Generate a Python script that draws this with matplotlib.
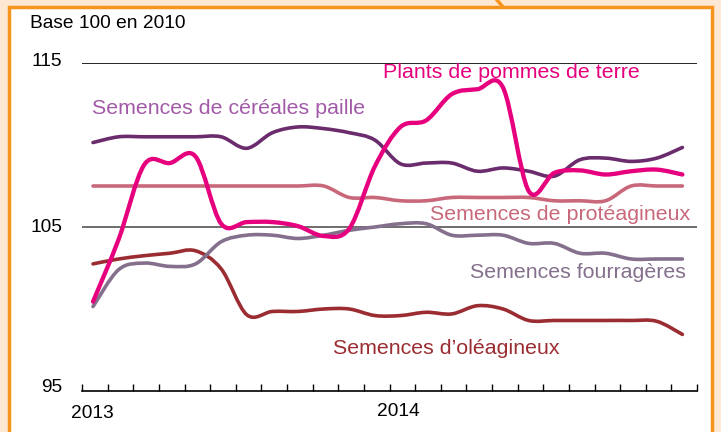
import numpy as np
import matplotlib.pyplot as plt
from matplotlib.path import Path
from matplotlib.patches import PathPatch, Rectangle
from matplotlib.lines import Line2D

plt.rcParams['font.family'] = ['Liberation Sans', 'DejaVu Sans']

# monthly index values, Jan 2013 -> Dec 2014 (base 100 in 2010)
months = np.arange(24)
cereales = [110.15, 110.5, 110.5, 110.5, 110.5, 110.5, 109.8, 110.75, 111.1, 111.0, 110.75, 110.3,
            108.85, 108.9, 108.9, 108.4, 108.6, 108.4, 108.1, 109.1, 109.2, 109.0, 109.2, 109.85]
pommes = [100.45, 104.25, 108.8, 108.9, 109.3, 105.2, 105.3, 105.3, 105.05, 104.45, 104.9, 108.7,
          111.1, 111.5, 113.1, 113.4, 113.5, 107.2, 108.3, 108.45, 108.2, 108.4, 108.5, 108.2]
proteagineux = [107.5] * 10 + [106.8, 106.8, 106.6, 106.6, 106.8, 106.8, 106.8, 106.8,
                               106.6, 106.6, 106.6, 107.5, 107.5, 107.5]
fourrageres = [100.15, 102.4, 102.8, 102.6, 102.75, 104.1, 104.5, 104.5, 104.3, 104.5, 104.8, 105.0,
               105.2, 105.2, 104.5, 104.5, 104.5, 104.0, 104.0, 103.4, 103.4, 103.05, 103.05, 103.05]
oleagineux = [102.75, 103.05, 103.25, 103.4, 103.55, 102.45, 99.65, 99.85, 99.85, 100.0, 100.0, 99.6,
              99.6, 99.8, 99.7, 100.2, 100.0, 99.3, 99.3, 99.3, 99.3, 99.3, 99.25, 98.45]

series = [
    (proteagineux, '#c8687a', 2.6, 'Semences de protéagineux', '#c8687a', (690, 214)),
    (oleagineux, '#9b2d32', 2.6, 'Semences d\u2019oléagineux', '#9b2d32', (560, 348)),
    (fourrageres, '#84708c', 2.6, 'Semences fourragères', '#84708c', (686, 273)),
    (cereales, '#6a2c6c', 2.6, 'Semences de céréales paille', '#a25aa8', (365, 109)),
    (pommes, '#e6007e', 3.1, 'Plants de pommes de terre', '#e6007e', (640, 73)),
]


def smooth_path(x, y):
    # Catmull-Rom style curve (like a spreadsheet "smoothed line") through the points
    pts = np.column_stack([x, y]).astype(float)
    ext = np.vstack([pts[0], pts, pts[-1]])
    verts = [pts[0]]
    codes = [Path.MOVETO]
    for i in range(len(pts) - 1):
        p0, p1, p2, p3 = ext[i], ext[i + 1], ext[i + 2], ext[i + 3]
        verts += [p1 + (p2 - p0) / 6, p2 - (p3 - p1) / 6, p2]
        codes += [Path.CURVE4] * 3
    return Path(verts, codes)


fig = plt.figure(figsize=(7.21, 4.32), dpi=100, facecolor='#fde9d3')
# white panel with orange frame
fig.patches.append(Rectangle((9 / 721, -0.1), 703 / 721, 1.1 - 7 / 432, transform=fig.transFigure,
                             facecolor='white', edgecolor='#f7941d', lw=2.5, zorder=-10))
fig.lines.append(Line2D([497 / 721, 503 / 721], [1.0, 1 - 7 / 432], transform=fig.transFigure,
                        color='#f7941d', lw=2.5, zorder=-10))

ax = fig.add_axes([82 / 721, 1 - 391 / 432, 615 / 721, 328 / 432])
ax.set_xlim(0, 24)
ax.set_ylim(95, 115)
ax.patch.set_alpha(0)
for s in ax.spines.values():
    s.set_visible(False)

ax.axhline(115, color='black', lw=1.2, zorder=1)
ax.axhline(105, color='#555555', lw=1.2, zorder=1)
ax.axhline(95, color='black', lw=1.2, zorder=1, clip_on=False)

xs = months + 0.43
for vals, col, lw, label, lcol, pos in series:
    ax.add_patch(PathPatch(smooth_path(xs, vals), fill=False, edgecolor=col, lw=lw,
                           capstyle='round', joinstyle='round', zorder=3))
    fig.text(pos[0] / 721, 1 - pos[1] / 432, label, color=lcol, fontsize=15.4,
             ha='right', va='center')

ax.set_xticks(np.arange(25))
ax.set_xticklabels([])
ax.tick_params(axis='x', direction='in', length=5, width=1, color='black', pad=0)
ax.set_yticks([])

small = 13.8
fig.text(62 / 721, 1 - 62 / 432, '115', fontsize=small, ha='right', va='center')
fig.text(62 / 721, 1 - 228 / 432, '105', fontsize=small, ha='right', va='center')
fig.text(62 / 721, 1 - 387 / 432, '95', fontsize=small, ha='right', va='center')
fig.text(92 / 721, 1 - 413 / 432, '2013', fontsize=small, ha='center', va='center')
fig.text(398 / 721, 1 - 412 / 432, '2014', fontsize=small, ha='center', va='center')
fig.text(30 / 721, 1 - 24 / 432, 'Base 100 en 2010', fontsize=small, ha='left', va='center')

fig.savefig('out.png', dpi=100, facecolor=fig.get_facecolor())
